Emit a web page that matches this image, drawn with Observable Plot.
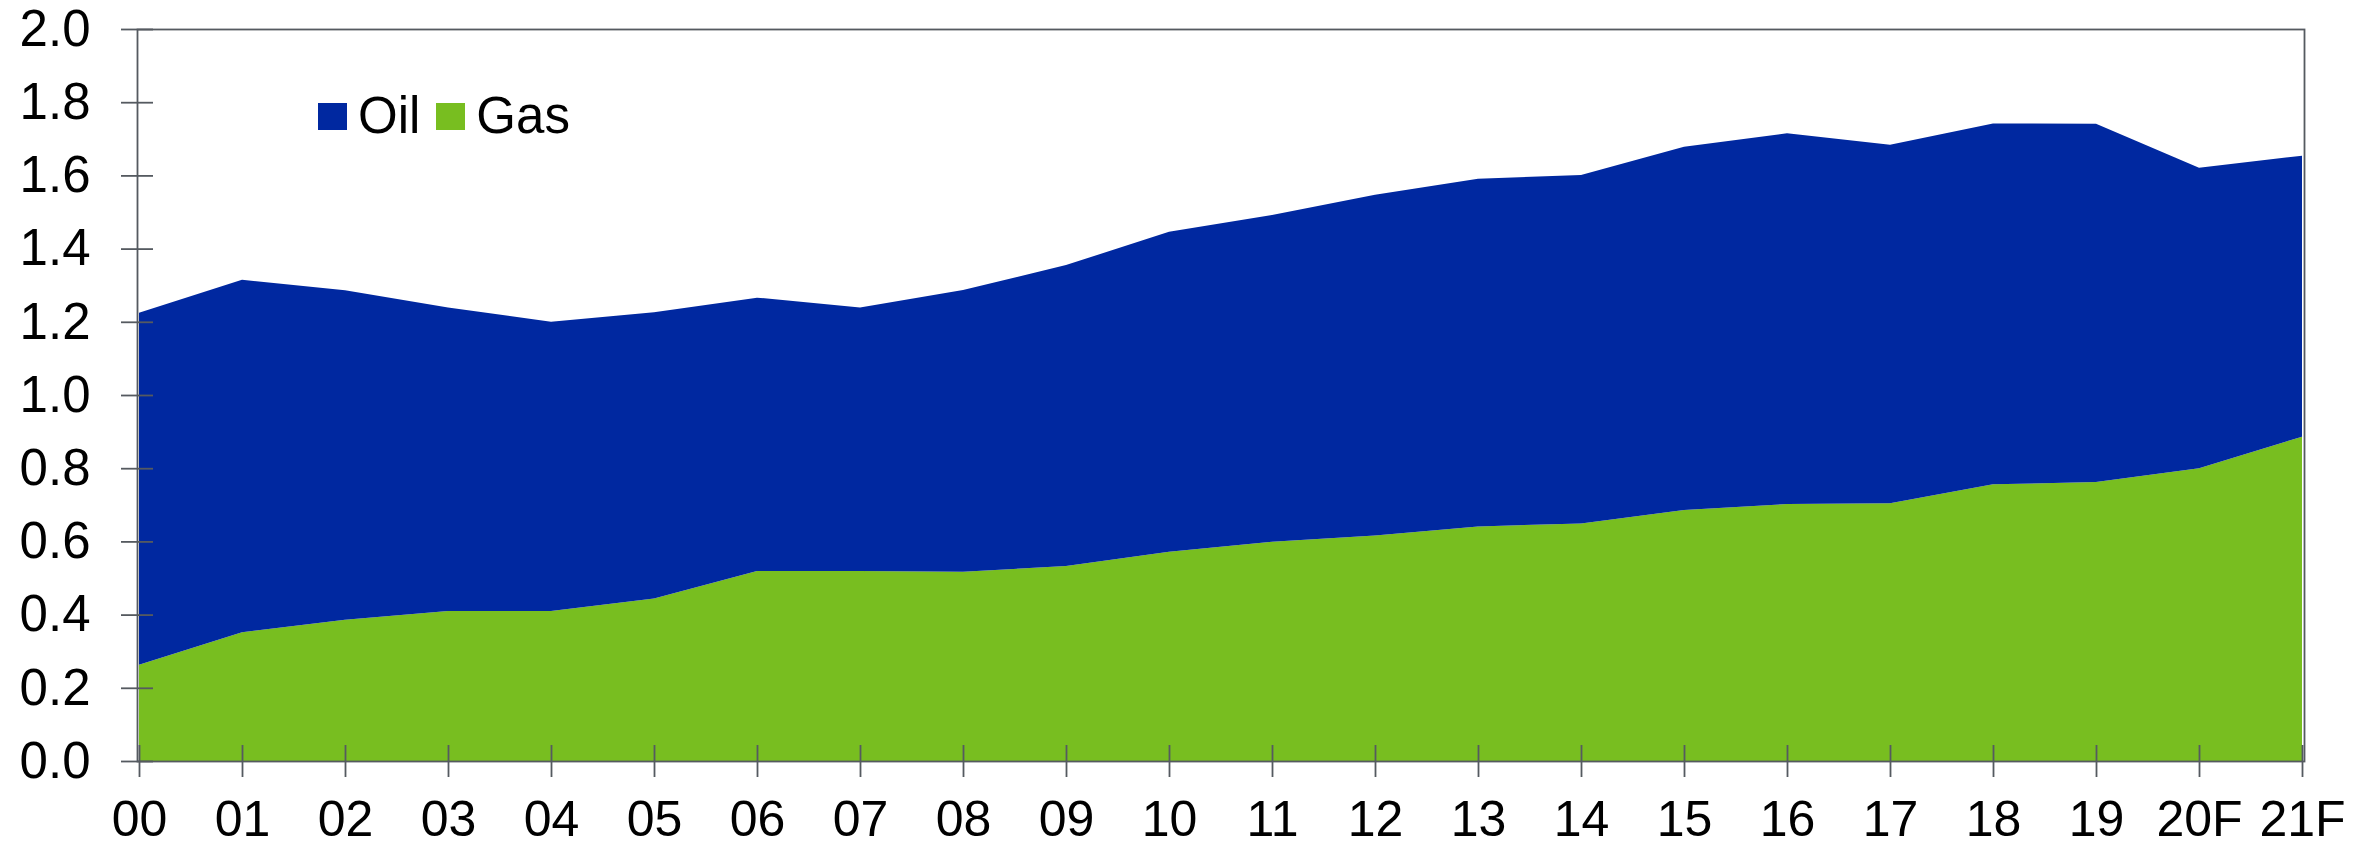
<!DOCTYPE html>
<html>
<head>
<meta charset="utf-8">
<script src="https://cdn.jsdelivr.net/npm/d3@7"></script>
<script src="https://cdn.jsdelivr.net/npm/@observablehq/plot@0.6"></script>
<style>
  html, body { margin: 0; padding: 0; background: #fff; overflow: hidden; }
  #wrap { position: relative; width: 2376px; height: 846px; font-family: "Liberation Sans", Arial, sans-serif; }
  #legend { position: absolute; left: 318px; top: 91px; display: flex; align-items: center; font-size: 51px; line-height: 50px; color: #000; }
  .sw { display: inline-block; width: 29px; height: 27px; margin-right: 11px; }
  .lab { margin-right: 16px; }
</style>
</head>
<body>
<div id="wrap"></div>
<script>
const years = ["00","01","02","03","04","05","06","07","08","09","10","11","12","13","14","15","16","17","18","19","20F","21F"];
const gas = [0.263,0.352,0.386,0.410,0.410,0.444,0.519,0.519,0.517,0.533,0.572,0.599,0.616,0.641,0.649,0.686,0.702,0.704,0.756,0.762,0.800,0.886];
const oil = [0.962,0.963,0.900,0.829,0.790,0.782,0.747,0.720,0.770,0.822,0.874,0.893,0.931,0.950,0.952,0.992,1.013,0.980,0.986,0.979,0.821,0.768];
const seriesNames = ["Oil", "Gas"];
const seriesColors = ["#0028a0", "#78be20"];
const yTicks = [0, 0.2, 0.4, 0.6, 0.8, 1.0, 1.2, 1.4, 1.6, 1.8, 2.0];

const data = [];
years.forEach((yr, i) => {
  data.push({year: yr, series: "Gas", value: gas[i]});
  data.push({year: yr, series: "Oil", value: oil[i]});
});

const axisGray = "#555a60";

const chart = Plot.plot({
  width: 2376,
  height: 846,
  marginLeft: 137,
  marginRight: 72,
  marginTop: 29,
  marginBottom: 85,
  style: {fontFamily: "'Liberation Sans', Arial, sans-serif", color: "#000", background: "#fff"},
  x: {type: "point", domain: years, padding: 0, label: null},
  y: {domain: [0, 2], label: null},
  color: {domain: seriesNames, range: seriesColors},
  marks: [
    Plot.areaY(data, Plot.stackY({x: "year", y: "value", fill: "series", z: "series"})),
    Plot.frame({stroke: axisGray, strokeWidth: 1.8}),
    Plot.axisY(yTicks, {tickSize: 32, dx: 16, fill: "none", stroke: axisGray, strokeWidth: 1.8, label: null}),
    Plot.axisY(yTicks, {tickSize: 0, tickPadding: 47, fontSize: 51, fill: "#000", tickFormat: d3.format(".1f"), label: null}),
    Plot.axisX({tickSize: 32, dy: -16, fill: "none", stroke: axisGray, strokeWidth: 1.8, label: null}),
    Plot.axisX({tickSize: 0, tickPadding: 39, fontSize: 50, fill: "#000", label: null})
  ]
});

const wrap = document.getElementById("wrap");
wrap.appendChild(chart);

const legend = document.createElement("div");
legend.id = "legend";
seriesNames.forEach((name, i) => {
  const sw = document.createElement("span");
  sw.className = "sw";
  sw.style.background = seriesColors[i];
  const lab = document.createElement("span");
  lab.className = "lab";
  lab.textContent = name;
  legend.appendChild(sw);
  legend.appendChild(lab);
});
wrap.appendChild(legend);
</script>
</body>
</html>
